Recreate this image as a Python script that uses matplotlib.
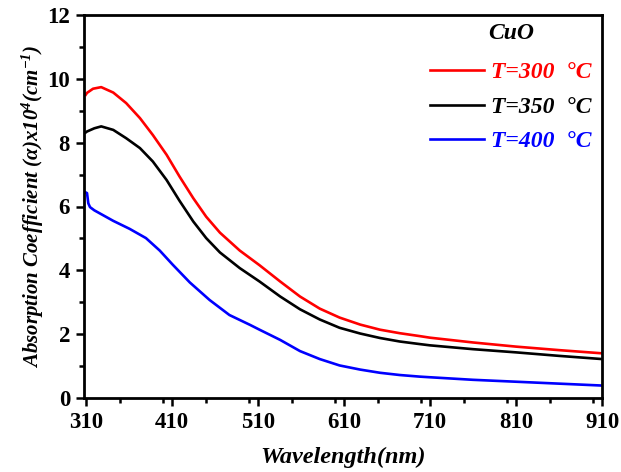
import matplotlib
matplotlib.use("Agg")
import matplotlib.pyplot as plt
from matplotlib.ticker import MultipleLocator

wl_300 = [310, 311.5, 318.5, 328, 342, 357, 373, 388, 404, 419, 435, 450, 466, 489, 512, 536, 559, 582, 605, 629, 652, 675, 698, 710, 760, 810, 860, 910]
a_300 = [9.50, 9.56, 9.69, 9.74, 9.57, 9.24, 8.77, 8.24, 7.62, 6.94, 6.26, 5.68, 5.18, 4.62, 4.16, 3.65, 3.18, 2.80, 2.52, 2.30, 2.14, 2.03, 1.94, 1.89, 1.74, 1.61, 1.50, 1.40]
wl_350 = [310, 311.5, 320, 328, 342, 357, 373, 388, 404, 419, 435, 450, 466, 489, 512, 536, 559, 582, 605, 629, 652, 675, 698, 710, 760, 810, 860, 910]
a_350 = [8.32, 8.35, 8.45, 8.51, 8.40, 8.14, 7.83, 7.41, 6.83, 6.18, 5.53, 5.01, 4.56, 4.07, 3.65, 3.18, 2.78, 2.46, 2.20, 2.02, 1.88, 1.77, 1.69, 1.65, 1.53, 1.43, 1.32, 1.22]
wl_400 = [310, 311.5, 313, 315, 320, 326, 342, 361, 380, 396, 411, 431, 454, 477, 501, 512, 536, 559, 582, 605, 629, 652, 675, 698, 710, 760, 810, 860, 910]
a_400 = [6.44, 6.42, 6.10, 5.98, 5.88, 5.79, 5.55, 5.30, 5.01, 4.62, 4.18, 3.62, 3.07, 2.60, 2.29, 2.14, 1.82, 1.47, 1.22, 1.02, 0.89, 0.79, 0.72, 0.67, 0.65, 0.57, 0.51, 0.45, 0.39]

labels = ["T=300  \u00b0C", "T=350  \u00b0C", "T=400  \u00b0C"]
colors = ["#ff0000", "#000000", "#0000ff"]
xticks = [310, 410, 510, 610, 710, 810, 910]
yticks = [0, 2, 4, 6, 8, 10, 12]

plt.rcParams['font.family'] = ['Liberation Serif', 'DejaVu Serif']
plt.rcParams['mathtext.fontset'] = 'custom'
plt.rcParams['mathtext.rm'] = 'Liberation Serif:italic:bold'
plt.rcParams['mathtext.it'] = 'Liberation Serif:italic:bold'
plt.rcParams['mathtext.bf'] = 'Liberation Serif:italic:bold'
plt.rcParams['mathtext.default'] = 'it'

fig = plt.figure(figsize=(6.21, 4.72), dpi=100)
ax = fig.add_axes([84/621, 1-398/472, (602-84)/621, (398-15)/472])

for wl, a, lab, c in zip([wl_300, wl_350, wl_400], [a_300, a_350, a_400], labels, colors):
    ax.plot(wl, a, color=c, lw=1.9, label=lab, solid_joinstyle='round')

ax.set_xlim(308, 910)
ax.set_ylim(0, 12)
ax.set_xticks(xticks)
ax.set_yticks(yticks)
ax.xaxis.set_minor_locator(MultipleLocator(50))
ax.yaxis.set_minor_locator(MultipleLocator(1))
ax.tick_params(which='both', direction='out', width=1.8, top=False, right=False)
ax.tick_params(which='major', length=6, labelsize=16.5, pad=4)
ax.tick_params(which='minor', length=3.5)
for lbl in ax.get_xticklabels() + ax.get_yticklabels():
    lbl.set_fontweight('bold')
for s in ax.spines.values():
    s.set_linewidth(2.0)

ax.set_xlabel("Wavelength(nm)", fontsize=17.5, fontweight='bold', fontstyle='italic', labelpad=10)
ax.set_ylabel(r"Absorption Coefficient ($\alpha$)x10$^{4}$(cm$^{-1}$)",
              fontsize=15, fontweight='bold', fontstyle='italic', labelpad=1)

leg = ax.legend(loc='upper right', bbox_to_anchor=(1.02, 1.035), frameon=False,
                title="CuO", handlelength=2.25, handletextpad=0.3, labelspacing=0.55,
                prop={'size': 17, 'weight': 'bold', 'style': 'italic'}, labelcolor='linecolor')
leg.get_title().set_fontsize(17)
leg.get_title().set_fontweight('bold')
leg.get_title().set_fontstyle('italic')
leg._legend_box.sep = 13

fig.savefig("out.png", dpi=100)
